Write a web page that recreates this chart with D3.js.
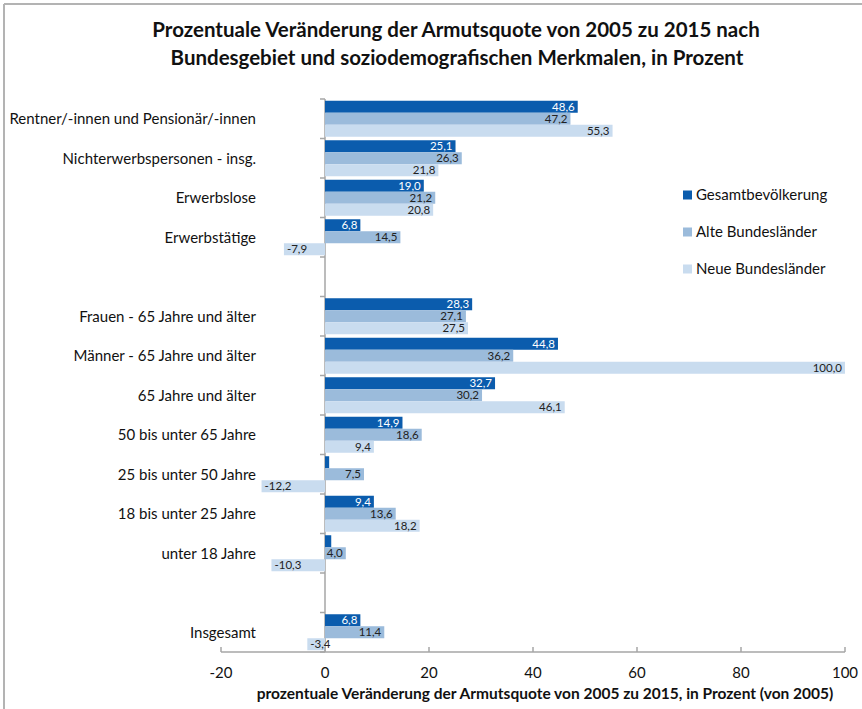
<!DOCTYPE html>
<html>
<head>
<meta charset="utf-8">
<script src="https://cdn.jsdelivr.net/npm/d3@7"></script>
<style>
  body { margin: 0; background: #fff; }
  svg { display: block; font-family: Lato, "Open Sans", sans-serif; }
</style>
</head>
<body>
<div id="chart"></div>
<script>
// categories top to bottom, "" = empty spacer row
const categories = [
  "Rentner/-innen und Pensionär/-innen",
  "Nichterwerbspersonen - insg.",
  "Erwerbslose",
  "Erwerbstätige",
  "",
  "Frauen - 65 Jahre und älter",
  "Männer - 65 Jahre und älter",
  "65 Jahre und älter",
  "50 bis unter 65 Jahre",
  "25 bis unter 50 Jahre",
  "18 bis unter 25 Jahre",
  "unter 18 Jahre",
  "",
  "Insgesamt"
];
const seriesNames = ["Gesamtbevölkerung", "Alte Bundesländer", "Neue Bundesländer"];
const gesamt = [48.6, 25.1, 19.0, 6.8, null, 28.3, 44.8, 32.7, 14.9, 0.8, 9.4, 1.2, null, 6.8];
const alte   = [47.2, 26.3, 21.2, 14.5, null, 27.1, 36.2, 30.2, 18.6, 7.5, 13.6, 4.0, null, 11.4];
const neue   = [55.3, 21.8, 20.8, -7.9, null, 27.5, 100.0, 46.1, 9.4, -12.2, 18.2, -10.3, null, -3.4];
// the two tiny bars carry no label in the original
const hideLabel = [[9, 0], [11, 0]];
const xTicks = [-20, 0, 20, 40, 60, 80, 100];
const colors = ["#0b5cad", "#9bbbdb", "#c9dcef"];

const width = 862, height = 709;
const svg = d3.select("#chart").append("svg")
  .attr("width", width)
  .attr("height", height);

// outer frame (top and left edges visible)
svg.append("line").attr("x1", 4).attr("x2", width).attr("y1", 4).attr("y2", 4)
  .attr("stroke", "#b3b3b3").attr("stroke-width", 2);
svg.append("line").attr("x1", 4).attr("x2", 4).attr("y1", 4).attr("y2", height)
  .attr("stroke", "#b3b3b3").attr("stroke-width", 2);

// title
const title = svg.append("text")
  .attr("text-anchor", "middle")
  .style("font-size", "20.5px")
  .style("font-weight", "bold")
  .attr("fill", "#111");
title.append("tspan").attr("x", 456).attr("y", 37)
  .text("Prozentuale Veränderung der Armutsquote von 2005 zu 2015 nach");
title.append("tspan").attr("x", 457).attr("y", 65)
  .text("Bundesgebiet und soziodemografischen Merkmalen, in Prozent");

const x = d3.scaleLinear().domain([-20, 100]).range([221, 845]);
const y = d3.scaleBand().domain(d3.range(categories.length)).range([99, 652]);
const inner = d3.scaleBand().domain(d3.range(3)).range([0, 36]);

const series = [gesamt, alte, neue];

// vertical category axis at x=0
const yAxis = svg.append("g").attr("transform", `translate(${x(0)},0)`);
yAxis.append("line").attr("x1", 0).attr("x2", 0).attr("y1", y.range()[0]).attr("y2", y.range()[1])
  .attr("stroke", "#a6a6a6").attr("stroke-width", 1.5);
yAxis.selectAll(".tk").data(d3.range(categories.length + 1)).join("line")
  .attr("x1", -5).attr("x2", 0)
  .attr("y1", i => y.range()[0] + i * y.step())
  .attr("y2", i => y.range()[0] + i * y.step())
  .attr("stroke", "#a6a6a6").attr("stroke-width", 1.5);

// category labels
svg.selectAll(".cat").data(categories).join("text")
  .attr("x", 256)
  .attr("y", (d, i) => y(i) + y.bandwidth() / 2)
  .attr("dy", "0.35em")
  .attr("text-anchor", "end")
  .style("font-size", "15px")
  .attr("fill", "#111")
  .text(d => d);

// bars
const rows = [];
series.forEach((vals, s) => vals.forEach((v, i) => {
  if (v == null) return;
  rows.push({ s, i, v });
}));

const y0 = i => y(i) + (y.bandwidth() - 36) / 2;

svg.selectAll(".bar").data(rows).join("rect")
  .attr("x", d => x(Math.min(0, d.v)))
  .attr("width", d => Math.abs(x(d.v) - x(0)))
  .attr("y", d => y0(d.i) + inner(d.s))
  .attr("height", inner.bandwidth())
  .attr("fill", d => colors[d.s]);

// value labels (inside end), German decimal comma, plain hyphen minus
const fmt = v => v.toFixed(1).replace(".", ",");
svg.selectAll(".lbl").data(rows.filter(d => !hideLabel.some(h => h[0] === d.i && h[1] === d.s)))
  .join("text")
  .attr("x", d => d.v >= 0 ? x(d.v) - 3 : x(d.v) + 3)
  .attr("y", d => y0(d.i) + inner(d.s) + inner.bandwidth() / 2)
  .attr("dy", "0.36em")
  .attr("text-anchor", d => d.v >= 0 ? "end" : "start")
  .style("font-size", "11.5px")
  .attr("fill", d => d.s === 0 ? "#fff" : "#222")
  .text(d => fmt(d.v));

// x axis
const xAxis = svg.append("g").attr("transform", `translate(0,652)`);
xAxis.append("line").attr("x1", x(-20)).attr("x2", x(100)).attr("y1", 0).attr("y2", 0)
  .attr("stroke", "#a6a6a6").attr("stroke-width", 1.5);
xAxis.selectAll(".xt").data(xTicks).join("line")
  .attr("x1", d => x(d)).attr("x2", d => x(d))
  .attr("y1", -5).attr("y2", 0)
  .attr("stroke", "#a6a6a6").attr("stroke-width", 1.5);
xAxis.selectAll(".xl").data(xTicks).join("text")
  .attr("x", d => x(d))
  .attr("y", 26)
  .attr("text-anchor", "middle")
  .style("font-size", "15px")
  .attr("fill", "#111")
  .text(d => d);

svg.append("text")
  .attr("x", 545).attr("y", 699)
  .attr("text-anchor", "middle")
  .style("font-size", "15.5px")
  .style("font-weight", "bold")
  .attr("fill", "#111")
  .text("prozentuale Veränderung der Armutsquote von 2005 zu 2015, in Prozent (von 2005)");

// legend
const legend = svg.selectAll(".leg").data(seriesNames).join("g")
  .attr("transform", (d, i) => `translate(683,${195 + i * 37})`);
legend.append("rect").attr("x", 0).attr("y", -4.5).attr("width", 9).attr("height", 9)
  .attr("fill", (d, i) => colors[i]);
legend.append("text").attr("x", 13).attr("y", 0).attr("dy", "0.35em")
  .style("font-size", "15px").attr("fill", "#111")
  .text(d => d);
</script>
</body>
</html>
